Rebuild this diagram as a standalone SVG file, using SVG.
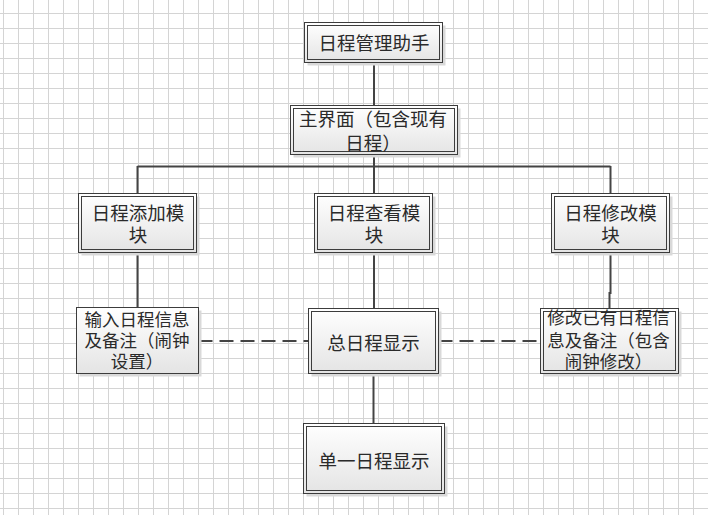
<svg xmlns="http://www.w3.org/2000/svg" width="708" height="515" viewBox="0 0 708 515">
<defs>
<pattern id="grid" patternUnits="userSpaceOnUse" x="3" y="13" width="15" height="15">
<path d="M0.5 0 V15 M0 0.5 H15" stroke="#d4d4d4" stroke-width="1" fill="none"/>
</pattern>
<linearGradient id="fill" x1="0" y1="0" x2="0" y2="1">
<stop offset="0" stop-color="#ffffff"/>
<stop offset="1" stop-color="#e4e4e4"/>
</linearGradient>
</defs>
<style>
.shadow{fill:#d9d9d9;stroke:none}
.outer{fill:url(#fill);stroke:#3c3c3c;stroke-width:1}
.inner{fill:none;stroke:#3c3c3c;stroke-width:1}
.t{font-family:"Noto Sans CJK SC","Liberation Sans",sans-serif;font-size:18.5px;fill:#2a2a2a;text-anchor:middle;dominant-baseline:central}
.s{font-size:17.5px}
.line{fill:none;stroke:#444;stroke-width:2}
.dash{fill:none;stroke:#444;stroke-width:2;stroke-dasharray:14 7}
</style>
<rect x="0" y="0" width="708" height="515" fill="#ffffff"/>
<rect x="0" y="0" width="708" height="515" fill="url(#grid)"/>

<g id="connectors">
<path class="line" d="M374 62 V105"/>
<path class="line" d="M374 154 V166.5"/>
<path class="line" d="M137.5 166.5 H610.5"/>
<path class="line" d="M137.5 166 V193"/>
<path class="line" d="M374 166 V193"/>
<path class="line" d="M610.5 166 V193"/>
<path class="line" d="M137.5 252 V307"/>
<path class="line" d="M374 252 V308"/>
<path class="line" d="M610.5 252 V293 H609.5 V308"/>
<path class="line" d="M373.5 373 V423"/>
<path class="dash" d="M198.5 341 H308"/>
<path class="dash" d="M438.5 341 H540"/>
</g>

<g id="node-top">
<rect class="shadow" x="307.5" y="25.5" width="138" height="40"/>
<rect class="outer" x="304.5" y="22.5" width="138" height="40"/>
<rect class="inner" x="307.5" y="25.5" width="132" height="34"/>
<text class="t" x="374" y="42">日程管理助手</text>
</g>

<g id="node-main">
<rect class="shadow" x="293.5" y="108.5" width="167" height="49"/>
<rect class="outer" x="290.5" y="105.5" width="167" height="49"/>
<rect class="inner" x="293.5" y="108.5" width="161" height="43"/>
<text class="t" x="373" y="118">主界面（包含现有</text>
<text class="t" x="373" y="141.5">日程）</text>
</g>

<g id="node-add">
<rect class="shadow" x="81.5" y="196.5" width="118" height="59"/>
<rect class="outer" x="78.5" y="193.5" width="118" height="59"/>
<rect class="inner" x="81.5" y="196.5" width="112" height="53"/>
<text class="t" x="138" y="211.5">日程添加模</text>
<text class="t" x="138" y="234">块</text>
</g>

<g id="node-view">
<rect class="shadow" x="317.5" y="196.5" width="118" height="59"/>
<rect class="outer" x="314.5" y="193.5" width="118" height="59"/>
<rect class="inner" x="317.5" y="196.5" width="112" height="53"/>
<text class="t" x="374" y="211.5">日程查看模</text>
<text class="t" x="374" y="234">块</text>
</g>

<g id="node-modify-module">
<rect class="shadow" x="554.5" y="196.5" width="118" height="59"/>
<rect class="outer" x="551.5" y="193.5" width="118" height="59"/>
<rect class="inner" x="554.5" y="196.5" width="112" height="53"/>
<text class="t" x="610.5" y="211.5">日程修改模</text>
<text class="t" x="610.5" y="234">块</text>
</g>

<g id="node-input">
<rect class="shadow" x="79.5" y="310.5" width="122" height="66"/>
<rect class="outer" x="76.5" y="307.5" width="122" height="66"/>
<text class="t s" x="137" y="318">输入日程信息</text>
<text class="t s" x="137" y="339.5">及备注（闹钟</text>
<text class="t s" x="137" y="360">设置）</text>
</g>

<g id="node-total">
<rect class="shadow" x="311.5" y="311.5" width="130" height="65"/>
<rect class="outer" x="308.5" y="308.5" width="130" height="65"/>
<rect class="inner" x="311.5" y="311.5" width="124" height="59"/>
<text class="t" x="373.5" y="341.5">总日程显示</text>
</g>

<g id="node-modify">
<rect class="shadow" x="543.5" y="311.5" width="138" height="65"/>
<rect class="outer" x="540.5" y="308.5" width="138" height="65"/>
<rect class="inner" x="543.5" y="311.5" width="132" height="59"/>
<text class="t s" x="608.5" y="316.5">修改已有日程信</text>
<text class="t s" x="608.5" y="339.5">息及备注（包含</text>
<text class="t s" x="608.5" y="360">闹钟修改）</text>
</g>

<g id="node-single">
<rect class="shadow" x="306.5" y="426.5" width="141" height="70"/>
<rect class="outer" x="303.5" y="423.5" width="141" height="70"/>
<rect class="inner" x="306.5" y="426.5" width="135" height="64"/>
<text class="t" x="374" y="460">单一日程显示</text>
</g>
</svg>
